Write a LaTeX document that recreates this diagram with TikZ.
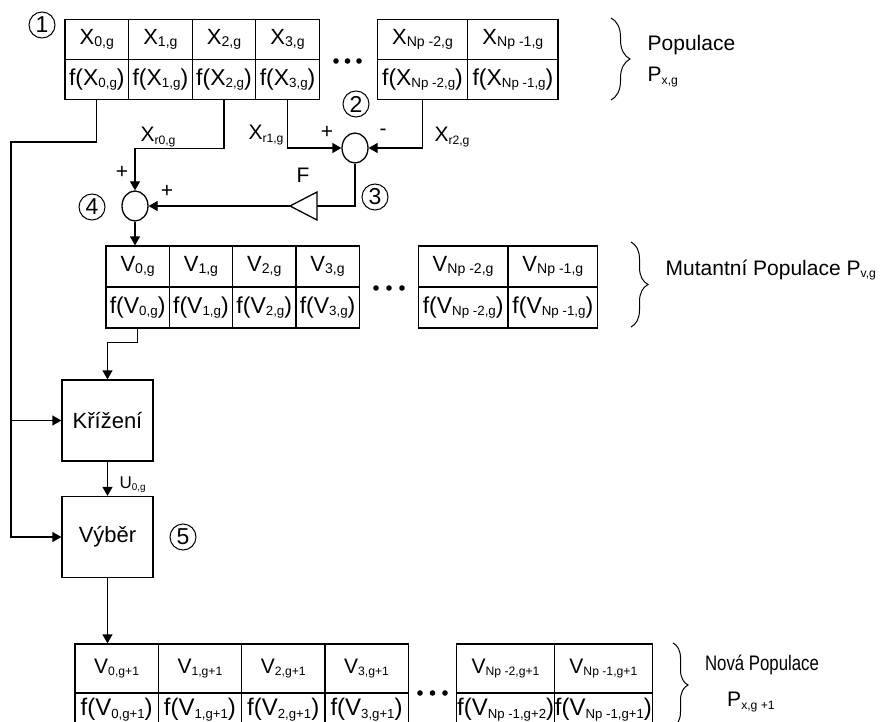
\documentclass[tikz,border=0pt]{standalone}
\usepackage{fontspec}
\usepackage{graphicx}
\setmainfont{Liberation Sans}
\usetikzlibrary{arrows.meta,shapes.geometric,decorations.pathreplacing}
\def\sbf{0.58}
\newcommand\sbs[1]{\raisebox{-0.12em}{\scalebox{\sbf}{#1}}}
\newcommand\fsz[1]{\fontsize{#1}{#1}\selectfont}
\begin{document}
\begin{tikzpicture}[x=1pt,y=-1pt,line width=1.3pt,
  every node/.style={inner sep=0pt},
  cell/.style={draw,line width=1.3pt,inner sep=0pt,anchor=center},
  ta/.style={cell,minimum width=63.6pt,minimum height=40pt},
  tb/.style={cell,minimum width=90.4pt,minimum height=40pt},
  va/.style={cell,minimum width=63.3pt,minimum height=41pt},
  vb/.style={cell,minimum width=89.7pt,minimum height=41pt},
  na/.style={cell,minimum width=83.3pt,minimum height=49pt},
  nb/.style={cell,minimum width=97.8pt,minimum height=49pt},
  nal/.style={cell,minimum width=83.3pt,minimum height=34pt},
  nbl/.style={cell,minimum width=97.8pt,minimum height=34pt},
  up/.style={font={\fsz{22}\def\sbf{0.64}}},
  lo/.style={font={\fsz{23}\def\sbf{0.58}}},
  nup/.style={font={\fsz{21}\def\sbf{0.58}}},
  nlo/.style={font={\fsz{24}\def\sbf{0.55}}},
  num/.style={circle,draw,line width=1pt,minimum size=26pt,font={\fsz{23}}},
  summer/.style={ellipse,draw,line width=1.3pt,minimum width=26pt,minimum height=30pt},
  blk/.style={draw,line width=1.3pt,minimum width=91pt,minimum height=81pt,font={\fsz{22}}},
  lbl/.style={font={\fsz{21}\def\sbf{0.58}}},
  sgn/.style={font={\fsz{21}}},
  arr/.style={-{Triangle[length=9pt,width=10pt]}},
  brc/.style={decorate,line width=1pt},
]
\useasboundingbox (0,0) rectangle (880,722);
\clip (0,0) rectangle (880,722);

% ---------- population table
\node[ta,up] (x0) at (96.8,39.5) {X\sbs{0,g}};
\node[ta,up] (x1) at (160.4,39.5) {X\sbs{1,g}};
\node[ta,up] (x2) at (224.0,39.5) {X\sbs{2,g}};
\node[ta,up] (x3) at (287.6,39.5) {X\sbs{3,g}};
\node[ta,lo] (fx0) at (96.8,79.5) {f(X\sbs{0,g})};
\node[ta,lo] (fx1) at (160.4,79.5) {f(X\sbs{1,g})};
\node[ta,lo] (fx2) at (224.0,79.5) {f(X\sbs{2,g})};
\node[ta,lo] (fx3) at (287.6,79.5) {f(X\sbs{3,g})};
\node[tb,up] (xn2) at (422.5,39.5) {X\sbs{Np -2,g}};
\node[tb,up] (xn1) at (512.9,39.5) {X\sbs{Np -1,g}};
\node[tb,lo] (fxn2) at (422.5,79.5) {f(X\sbs{Np -2,g})};
\node[tb,lo] (fxn1) at (512.9,79.5) {f(X\sbs{Np -1,g})};
\fill (336,61) circle (2.8) (347.5,61) circle (2.8) (359,61) circle (2.8);
\draw[brc,decoration={brace,amplitude=19pt}] (611,18) -- (611,100);
\node[lbl,anchor=west] (pop) at (647,45) {Populace};
\node[lbl,anchor=west] (popp) at (647,77) {P\sbs{x,g}};

% ---------- mutant table
\node[va,up] (v0) at (137.65,266.5) {V\sbs{0,g}};
\node[va,up] (v1) at (200.95,266.5) {V\sbs{1,g}};
\node[va,up] (v2) at (264.25,266.5) {V\sbs{2,g}};
\node[va,up] (v3) at (327.55,266.5) {V\sbs{3,g}};
\node[va,lo] (fv0) at (137.65,307.5) {f(V\sbs{0,g})};
\node[va,lo] (fv1) at (200.95,307.5) {f(V\sbs{1,g})};
\node[va,lo] (fv2) at (264.25,307.5) {f(V\sbs{2,g})};
\node[va,lo] (fv3) at (327.55,307.5) {f(V\sbs{3,g})};
\node[vb,up] (vn2) at (463.15,266.5) {V\sbs{Np -2,g}};
\node[vb,up] (vn1) at (552.85,266.5) {V\sbs{Np -1,g}};
\node[vb,lo] (fvn2) at (463.15,307.5) {f(V\sbs{Np -2,g})};
\node[vb,lo] (fvn1) at (552.85,307.5) {f(V\sbs{Np -1,g})};
\fill (376,288) circle (2.8) (389,288) circle (2.8) (402,288) circle (2.8);
\draw[brc,decoration={brace,amplitude=17pt}] (631,242) -- (631,327);
\node[lbl,anchor=west] (mut) at (665,270) {Mutantní Populace P\sbs{v,g}};

% ---------- new table
\node[na,nup] (w0) at (116.65,668.5) {V\sbs{0,g+1}};
\node[na,nup] (w1) at (199.95,668.5) {V\sbs{1,g+1}};
\node[na,nup] (w2) at (283.25,668.5) {V\sbs{2,g+1}};
\node[na,nup] (w3) at (366.55,668.5) {V\sbs{3,g+1}};
\node[nal,nlo] (fw0) at (116.65,710) {f(V\sbs{0,g+1})};
\node[nal,nlo] (fw1) at (199.95,710) {f(V\sbs{1,g+1})};
\node[nal,nlo] (fw2) at (283.25,710) {f(V\sbs{2,g+1})};
\node[nal,nlo] (fw3) at (366.55,710) {f(V\sbs{3,g+1})};
\node[nb,nup] (wn2) at (505.6,668.5) {V\sbs{Np -2,g+1}};
\node[nb,nup] (wn1) at (603.4,668.5) {V\sbs{Np -1,g+1}};
\node[nbl,nlo] (fwn2) at (505.6,710) {f(V\sbs{Np -1,g+2})};
\node[nbl,nlo] (fwn1) at (603.4,710) {f(V\sbs{Np -1,g+1})};
\fill (420,693) circle (2.8) (432.5,693) circle (2.8) (445,693) circle (2.8);
\draw[brc,decoration={brace,amplitude=15pt}] (673,643) -- (673,727);
\node[font={\fsz{21}}] (nova) at (762,665) {\scalebox{0.8}[1]{Nová Populace}};
\node[lbl] (novap) at (751,702) {P\sbs{x,g +1}};

% ---------- operators
\node[summer] (sum1) at (355,148) {};
\node[summer] (sum2) at (135,206) {};
\coordinate (tritip) at (290,206);
\coordinate (tribase) at (317,206);
\draw[line width=1.3pt] (tritip) -- (317,192) -- (317,220) -- cycle;

\node[num] (n1) at (42,25) {1};
\node[num] (n2) at (356,104) {2};
\node[num] (n3) at (375,197) {3};
\node[num] (n4) at (92,207) {4};
\node[num] (n5) at (183,537) {5};

\node[blk] (kriz) at (107.5,420.5) {Křížení};
\node[blk] (vyb) at (107.5,537) {Výběr};

% ---------- connectors
\coordinate (lb1) at (11,142);
\draw[arr] (fx0.south) |- (lb1) -- (lb1 |- vyb.west) -- (vyb.west);
\draw[arr] (lb1 |- kriz.west) -- (kriz.west);
\draw[arr] (fx2.south) -- ++(0,48.5) -| (sum2.north);
\draw[arr] (fx3.south) |- (sum1.west);
\draw[arr] (fxn2.south) |- (sum1.east);
\draw (sum1.south) |- (tribase);
\draw[arr] (tritip) -- (sum2.east);
\draw[arr] (sum2.south) -- (sum2.south |- v0.north);
\draw[arr] (fv0.south) -- ++(0,14) -| (kriz.north);
\draw[arr] (kriz.south) -- (vyb.north);
\draw[arr] (vyb.south) -- (vyb.south |- w0.north);

% ---------- labels
\node[lbl] (lr0) at (158,137) {X\sbs{r0,g}};
\node[lbl] (lr1) at (266,135) {X\sbs{r1,g}};
\node[lbl] (lr2) at (452,137) {X\sbs{r2,g}};
\node[sgn] (p1) at (327,132) {+};
\node[sgn] (m1) at (383,132) {-};
\node[sgn] (p2) at (122,172) {+};
\node[sgn] (p3) at (167,191) {+};
\node[font={\fsz{21}}] (fF) at (303,175) {F};
\node[font={\fsz{17}\def\sbf{0.58}},anchor=west] (u0) at (119,485) {U\sbs{0,g}};
\end{tikzpicture}
\end{document}
